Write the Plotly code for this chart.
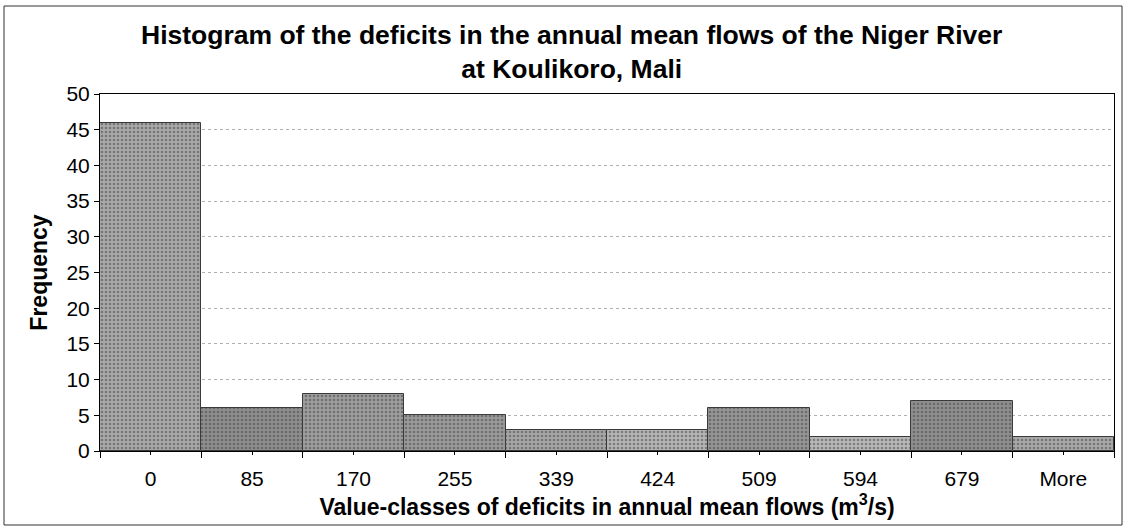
import plotly.graph_objects as go

categories = ["0", "85", "170", "255", "339", "424", "509", "594", "679", "More"]
frequency = [46, 6, 8, 5, 3, 3, 6, 2, 7, 2]
bar_colors = ["#a9a9a9", "#8e8e8e", "#9d9d9d", "#9a9a9a", "#a6a6a6",
              "#b4b4b4", "#959595", "#b8b8b8", "#8f8f8f", "#a9a9a9"]
pattern_fg = ["#d2d2d2", "#6e6e6e", "#7a7a7a", "#7a7a7a", "#c8c8c8",
              "#d6d6d6", "#707070", "#d8d8d8", "#6c6c6c", "#cacaca"]

positions = list(range(len(categories)))
boundaries = [p - 0.5 for p in positions] + [positions[-1] + 0.5]

font_family = "Liberation Sans, Arial, sans-serif"

fig = go.Figure()
fig.add_trace(go.Bar(
    x=positions,
    y=frequency,
    width=1,
    marker=dict(
        color=bar_colors,
        line=dict(color="#3a3a3a", width=1),
        pattern=dict(shape=".", fgcolor=pattern_fg, bgcolor=bar_colors,
                     size=4, solidity=0.35),
    ),
    hovertext=categories,
    showlegend=False,
))

fig.update_layout(
    width=1128,
    height=529,
    paper_bgcolor="white",
    plot_bgcolor="white",
    margin=dict(l=100, r=14, t=94, b=78),
    font=dict(family=font_family, size=21, color="black"),
    bargap=0,
    xaxis=dict(
        range=[-0.5, len(categories) - 0.5],
        tickmode="array",
        tickvals=positions,
        ticktext=categories,
        ticks="outside",
        ticklen=3,
        tickcolor="black",
        ticklabelstandoff=6,
        minor=dict(tickmode="array", tickvals=boundaries, ticks="outside",
                   ticklen=6, tickcolor="black", showgrid=False),
        showline=True,
        linecolor="black",
        linewidth=1,
        mirror=True,
        showgrid=False,
        zeroline=False,
        tickfont=dict(family=font_family, size=21, color="black"),
        title=dict(
            text="Value-classes of deficits in annual mean flows (m<sup>3</sup>/s)",
            font=dict(family=font_family, size=23, color="black", weight="bold"),
            standoff=6,
        ),
    ),
    yaxis=dict(
        range=[0, 50],
        dtick=5,
        ticks="outside",
        ticklen=5,
        tickcolor="black",
        showline=True,
        linecolor="black",
        linewidth=1,
        mirror=True,
        showgrid=True,
        gridcolor="#b0b0b0",
        griddash="dot",
        gridwidth=1,
        zeroline=False,
        tickfont=dict(family=font_family, size=21, color="black"),
        title=dict(
            text="Frequency",
            font=dict(family=font_family, size=23, color="black", weight="bold"),
            standoff=12,
        ),
    ),
    annotations=[dict(
        text="Histogram of the deficits in the annual mean flows of the Niger River<br>at Koulikoro, Mali",
        xref="paper", yref="paper",
        x=(571 - 100) / 1014, y=(451 - 52) / 357,
        xanchor="center", yanchor="middle", align="center",
        showarrow=False,
        font=dict(family=font_family, size=26.5, color="black", weight="bold"),
    )],
    shapes=[dict(type="rect", xref="paper", yref="paper",
                 x0=(4 - 100) / 1014, x1=(1122 - 100) / 1014,
                 y0=(451 - 525) / 357, y1=(451 - 6) / 357,
                 line=dict(color="#333333", width=1))],
)

fig.write_html("out.html", config={"displayModeBar": False},
               post_script="document.body.style.margin='0';")
